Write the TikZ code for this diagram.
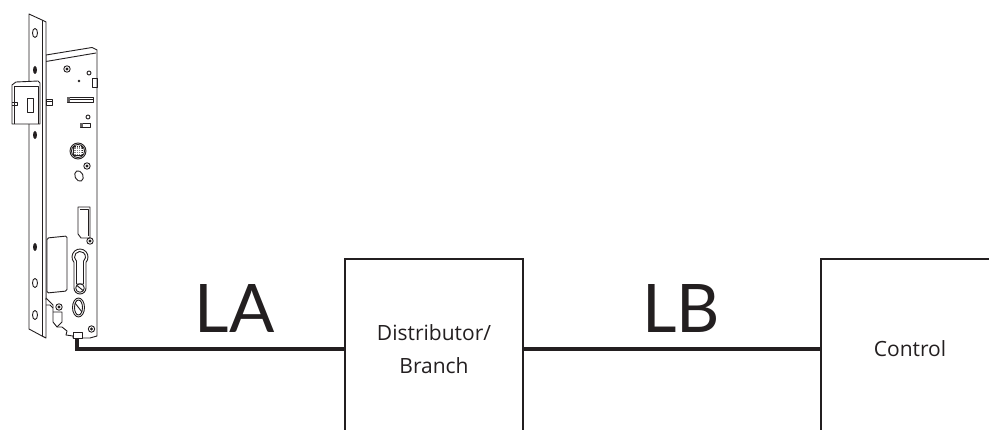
\documentclass[tikz,border=0pt]{standalone}
\usepackage{fontspec}
\setmainfont{Open Sans}
\newfontfamily\labelfont{Lato}
\definecolor{ink}{RGB}{35,31,32}
\begin{document}
\begin{tikzpicture}[x=1pt,y=-1pt,
  lockline/.style={line width=0.9pt, line join=round, draw=ink},
  boxnode/.style={draw=ink, line width=2pt, minimum width=178pt, minimum height=180pt,
    inner sep=0pt, align=center, font=\fontsize{21}{33}\selectfont, text=ink},
  wire/.style={line width=3.4pt, draw=ink},
  seglabel/.style={font=\labelfont\fontsize{67}{67}\selectfont, text=ink, anchor=base, inner sep=0pt},
  screw/.pic={\draw[lockline] (0,0) circle (3.2); \fill[ink] (0,0) circle (1.6);}]
\useasboundingbox (0,0) rectangle (989,430);

% ---------- mortise lock ----------
% case body
\draw[lockline, fill=white] (46,55) -- (92,47.5) -- (97,50) -- (97,336) -- (90,338)
  -- (82,338) -- (73,338) -- (73,336) -- (66,335) -- (67,331) -- (62,327) -- (57,327)
  -- (53,322) -- (53,305) -- (46,298) -- cycle;
\draw[lockline] (46,61.5) -- (96,53);
% faceplate
\draw[lockline, fill=white] (29,14) -- (42,20) -- (46,22) -- (46,338) -- (42,336) -- (29,329) -- cycle;
\draw[lockline] (42,20) -- (42,336);
\draw[lockline] (35,33) ellipse (2.5 and 4.5);
\fill[ink] (35,70) ellipse (2 and 4);
\fill[ink] (35,135) ellipse (2 and 4);
\fill[ink] (35,247) ellipse (2 and 4);
\draw[lockline] (35,283) ellipse (2.5 and 4.5);
\draw[lockline] (35,315) ellipse (2.5 and 4.5);
% latch bolt
\draw[lockline, fill=white] (12,85) -- (16,82) -- (38,81) -- (40,83) -- (40,124) -- (12,124) -- cycle;
\draw[lockline] (14,86) -- (38,86) -- (38,124);
\draw[lockline] (14,86) -- (14,124);
\draw[lockline] (27,98) -- (33,98) -- (33,112) -- (27,112) -- cycle;
\draw[lockline] (12,102) -- (17,102) -- (17,105) -- (12,105);
% dead bolt stub
\draw[lockline, fill=white] (46,99) rectangle (52,105);
\draw[lockline] (46,101) -- (52,101);
% upper fittings
\pic at (67,69) {screw};
\draw[lockline] (89,73) circle (2);
\fill[ink] (79,81) circle (1.3);
\draw[lockline] (92,78) rectangle (97,87);
\draw[lockline] (67,97) rectangle (93,102);
\fill[ink!70] (67,97) rectangle (70,102);
\draw[lockline] (70,99.5) -- (93,99.5);
\draw[lockline] (88,117) circle (2);
\draw[lockline] (80,123) rectangle (90,127);
\fill[ink!70] (80,123) rectangle (83,127);
% follower (square spindle hole)
\draw[lockline] (78,151) circle (8);
\draw[lockline] (78,151) circle (6.5);
\draw[lockline, fill=ink!55] (73.5,146.5) rectangle (82.5,155.5);
\draw[white, line width=0.4pt] (73.5,149) -- (82.5,149) (73.5,151) -- (82.5,151) (73.5,153) -- (82.5,153)
  (76,146.5) -- (76,155.5) (78,146.5) -- (78,155.5) (80,146.5) -- (80,155.5);
\pic at (87,166) {screw};
\draw[lockline, rotate around={25:(79,176)}] (79,176) ellipse (4 and 5.5);
% latch slot
\draw[lockline] (78,207) -- (90,207) -- (90,238) -- (81,238) -- (78,234) -- cycle;
\draw[lockline] (80,209) -- (88,209) -- (88,236);
\pic at (90,241) {screw};
% window
\draw[lockline, rounded corners=1.5pt] (47,238) -- (67,236) -- (67,291) -- (47,293) -- cycle;
% euro cylinder opening
\draw[lockline] (74,262.3) arc[start angle=138.6, end angle=401.4, radius=8]
  -- (86,288) arc[start angle=0, end angle=180, radius=6] -- cycle;
\draw[lockline] (76.5,261.2) arc[start angle=129.5, end angle=410.5, radius=5.5]
  -- (83.5,284) -- (76.5,284) -- cycle;
\draw[lockline] (80,288) circle (4.3);
\draw[lockline] (77,285.5) -- (83,290.5);
% lower fittings
\pic at (59,307) {screw};
\draw[lockline] (78.5,307.5) ellipse (6 and 9.5);
\draw[lockline] (78.5,307.5) ellipse (4 and 7.5);
\draw[lockline] (75,303) -- (82,312);
\draw[lockline] (53,312) -- (62,312) -- (62,322) -- (57,327);
\draw[lockline] (46,298) -- (46,300) (46,305) -- (50,305) -- (53,308);
\pic at (91.5,329) {screw};
\draw[lockline, fill=white] (73,332) rectangle (82,338);
\coordinate (lockout) at (77,338);

% ---------- blocks ----------
\node[boxnode] (dist) at (434,349) {Distributor/\\Branch};
\node[boxnode] (ctrl) at (910,349) {Control};

% ---------- cabling ----------
\draw[wire] (lockout) |- (dist.west);
\draw[wire] (dist.east) -- (ctrl.west);

\node[seglabel] (la) at (234.5,333) {LA};
\node[seglabel] (lb) at (681,333) {LB};
\end{tikzpicture}
\end{document}
